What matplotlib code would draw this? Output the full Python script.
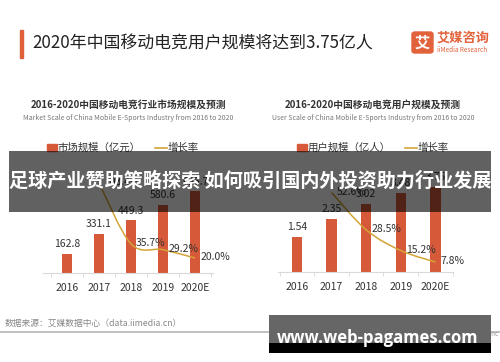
import numpy as np
import matplotlib.pyplot as plt
from matplotlib.patches import Rectangle, FancyBboxPatch
from matplotlib.path import Path
from matplotlib.patches import PathPatch

plt.rcParams['font.family'] = ['Noto Sans CJK SC', 'DejaVu Sans']

years = ['2016', '2017', '2018', '2019', '2020E']
market = [162.8, 331.1, 449.3, 580.6, 696.7]
market_growth = [None, 103.4, 35.7, 29.2, 20.0]
users = [1.54, 2.35, 3.02, 3.48, 3.75]
users_growth = [None, 52.6, 28.5, 15.2, 7.8]

W, H = 500, 362
BAR = '#d65a3a'
GOLD = '#d4a437'
fig = plt.figure(figsize=(W / 100, H / 100), dpi=100)
fig.patch.set_facecolor('white')


def rect(x0, y0, x1, y1):
    # pixel box (top-left origin) -> figure fraction
    return [x0 / W, 1 - y1 / H, (x1 - x0) / W, (y1 - y0) / H]


def smooth(ax, xs, ys, color):
    # catmull-rom through the data points, drawn as bezier path
    pts = list(zip(xs, ys))
    verts = [pts[0]]
    codes = [Path.MOVETO]
    for i in range(len(pts) - 1):
        p0 = np.array(pts[max(i - 1, 0)])
        p1 = np.array(pts[i])
        p2 = np.array(pts[i + 1])
        p3 = np.array(pts[min(i + 2, len(pts) - 1)])
        c1 = p1 + (p2 - p0) / 6
        c2 = p2 - (p3 - p1) / 6
        verts += [tuple(c1), tuple(c2), tuple(p2)]
        codes += [Path.CURVE4] * 3
    ax.add_patch(PathPatch(Path(verts, codes), fill=False, ec=color, lw=1.1))


def panel(box, vals, growth, ylim, glim, xlim, width, fmt, gfmt):
    ax = fig.add_axes(rect(*box))
    x = np.arange(len(years))
    bars = ax.bar(x, vals, width=width, color=BAR, zorder=2)
    ax.bar_label(bars, labels=[fmt.format(v) for v in vals], padding=3.5,
                 fontsize=7.5, color='#333333')
    ax.set_ylim(*ylim)
    ax.set_xlim(*xlim)
    ax.set_xticks(x)
    ax.set_xticklabels(years, fontsize=7.5, color='#333333')
    ax.set_xticks(np.arange(len(years) + 1) - 0.5, minor=True)
    ax.tick_params(axis='x', which='major', length=0, pad=7)
    ax.tick_params(axis='x', which='minor', length=3, color='#d9d9d9')
    ax.set_yticks([])
    for s in ['top', 'left', 'right']:
        ax.spines[s].set_visible(False)
    ax.spines['bottom'].set_color('#d9d9d9')
    ax.patch.set_alpha(0)

    ax2 = ax.twinx()
    ax2.set_ylim(*glim)
    ax2.set_yticks([])
    ax2.axis('off')
    gx = [i for i, g in enumerate(growth) if g is not None]
    gy = [g for g in growth if g is not None]
    smooth(ax2, gx, gy, GOLD)
    for i, g in zip(gx, gy):
        ax2.annotate(gfmt.format(g), (i, g), xytext=(5, 1), textcoords='offset pixels',
                     ha='left', va='center', fontsize=7.5, color='#333333')
    return ax


panel((43, 180, 213, 273), market, market_growth, (0, 795), (3.33, 106.7),
      (-0.75, 4.56), 0.31, '{:.1f}', '{:.1f}%')
panel((278, 180, 453, 272), users, users_growth, (0, 4.06), (1.35, 60.7),
      (-0.55, 4.51), 0.3, '{:.2f}', '{:.1f}%')

# titles
fig.add_artist(Rectangle((20 / W, 1 - 58 / H), 3 / W, 28 / H, color='#e0603a',
                         transform=fig.transFigure))
fig.text(32 / W, 1 - 43 / H, '2020年中国移动电竞用户规模将达到3.75亿人', fontsize=12.2,
         color='#222222', va='center', ha='left')

fig.add_artist(FancyBboxPatch((412 / W, 1 - 53 / H), 21 / W, 21 / H,
                              boxstyle='round,pad=0,rounding_size=0.006',
                              color='#e2623c', transform=fig.transFigure))
fig.text(422.5 / W, 1 - 42.5 / H, '艾', fontsize=11, color='white', weight='bold',
         ha='center', va='center')
fig.text(437 / W, 1 - 38 / H, '艾媒咨询', fontsize=9.5, color='#e2623c', weight='bold',
         ha='left', va='center')
fig.text(437 / W, 1 - 49.5 / H, 'iiMedia Research', fontsize=4.6, color='#e2623c',
         ha='left', va='center')

subs = [(128, '2016-2020中国移动电竞行业市场规模及预测',
         'Market Scale of China Mobile E-Sports Industry from 2016 to 2020'),
        (373, '2016-2020中国移动电竞用户规模及预测',
         'User Scale of China Mobile E-Sports Industry from 2016 to 2020')]
for cx, cn, en in subs:
    fig.text(cx / W, 1 - 105 / H, cn, fontsize=7.0, weight='bold', color='#333333',
             ha='center', va='center')
    fig.text(cx / W, 1 - 118 / H, en, fontsize=5, color='#777777',
             ha='center', va='center')

legs = [(47, '市场规模（亿元）', 155), (297, '用户规模（亿人）', 405)]
for lx, name, gx in legs:
    fig.add_artist(Rectangle((lx / W, 1 - 151.5 / H), 10 / W, 7 / H, color=BAR,
                             transform=fig.transFigure))
    fig.text((lx + 11) / W, 1 - 148 / H, name, fontsize=7.5, color='#333333',
             ha='left', va='center')
    fig.add_artist(plt.Line2D([gx / W, (gx + 12) / W], [1 - 148 / H] * 2, color=GOLD,
                              lw=1.2, transform=fig.transFigure))
    fig.text((gx + 13) / W, 1 - 148 / H, '增长率', fontsize=7.5, color='#333333',
             ha='left', va='center')

# footer
fig.text(5 / W, 1 - 323 / H, '数据来源：艾媒数据中心（data.iimedia.cn）', fontsize=6.3,
         color='#888888', ha='left', va='center')
fig.add_artist(plt.Line2D([0, 1], [1 - 332 / H] * 2, color='#bbbbbb', lw=1.3,
                          transform=fig.transFigure))
fig.text(498 / W, 1 - 334 / H, 'Copyright © 2020 iiMedia Research Inc', fontsize=4.5,
         color='#999999', ha='right', va='center')

# overlay band
fig.add_artist(Rectangle((9 / W, 1 - 212 / H), 482 / W, 61 / H, color='black',
                         alpha=0.62, lw=0, transform=fig.transFigure, zorder=10))
fig.text(250 / W, 1 - 181 / H, '足球产业赞助策略探索 如何吸引国内外投资助力行业发展',
         fontsize=13.8, weight='bold', color='white', ha='center', va='center', zorder=11)

# watermark
fig.add_artist(Rectangle((269 / W, 1 - 343 / H), 222 / W, 28 / H, color='#666666',
                         lw=0, transform=fig.transFigure, zorder=10))
fig.add_artist(Rectangle((269 / W, 1 - 353 / H), 222 / W, 10 / H, color='black',
                         lw=0, transform=fig.transFigure, zorder=10))
fig.text(378 / W, 1 - 338 / H, 'www.web-pagames.com', fontsize=12, weight='bold',
         color='white', ha='center', va='center', zorder=11,
         family=['Open Sans', 'DejaVu Sans'])

fig.savefig('out.png', dpi=100, facecolor='white')
